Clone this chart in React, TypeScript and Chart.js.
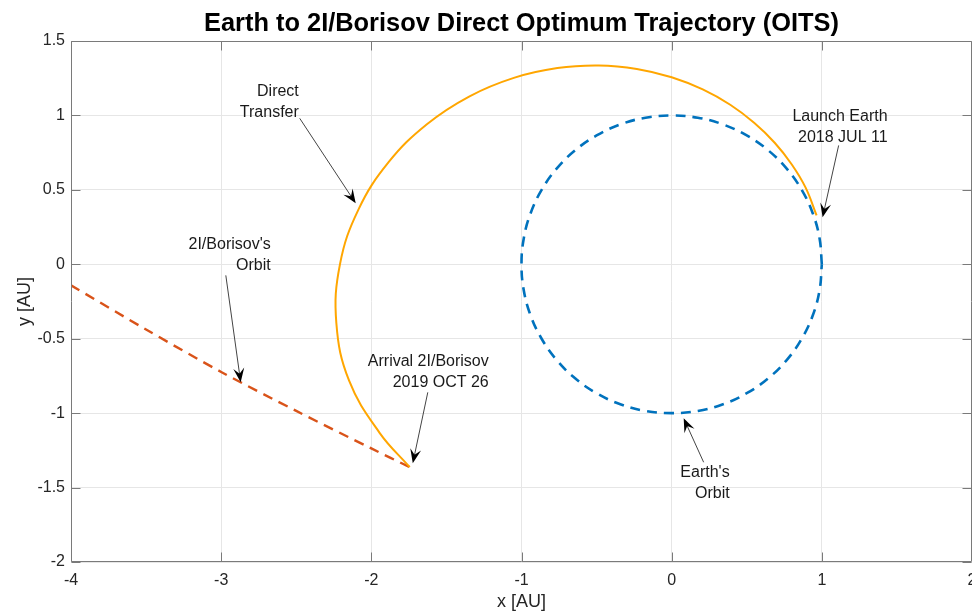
import React, { useEffect, useRef } from "react";
import { Chart, registerables } from "chart.js";

Chart.register(...registerables);

const FONT = '"Liberation Sans", Arial, Helvetica, sans-serif';

// Earth's orbit (unit circle, AU)
const earthX = [1, 0.985, 0.94, 0.866, 0.766, 0.643, 0.5, 0.342, 0.174, 0, -0.174, -0.342, -0.5, -0.643, -0.766, -0.866, -0.94, -0.985, -1, -0.985, -0.94, -0.866, -0.766, -0.643, -0.5, -0.342, -0.174, 0, 0.174, 0.342, 0.5, 0.643, 0.766, 0.866, 0.94, 0.985, 1];
const earthY = [0, 0.174, 0.342, 0.5, 0.643, 0.766, 0.866, 0.94, 0.985, 1, 0.985, 0.94, 0.866, 0.766, 0.643, 0.5, 0.342, 0.174, 0, -0.174, -0.342, -0.5, -0.643, -0.766, -0.866, -0.94, -0.985, -1, -0.985, -0.94, -0.866, -0.766, -0.643, -0.5, -0.342, -0.174, 0];

// Direct transfer trajectory (AU), launch -> arrival
const transferX = [0.965, 0.892, 0.8, 0.686, 0.549, 0.39, 0.207, 0, -0.232, -0.486, -0.761, -1.051, -1.346, -1.63, -1.885, -2.086, -2.209, -2.233, -2.148, -1.945, -1.744];
const transferY = [0.329, 0.515, 0.671, 0.817, 0.951, 1.072, 1.175, 1.257, 1.313, 1.336, 1.319, 1.253, 1.129, 0.941, 0.686, 0.368, 0, -0.394, -0.782, -1.132, -1.363];

// 2I/Borisov's orbit (AU)
const borisovX = [-4, -3.5, -3, -2.5, -2, -1.744];
const borisovY = [-0.141, -0.438, -0.723, -0.985, -1.237, -1.363];

const xTicks = [-4, -3, -2, -1, 0, 1, 2];
const yTicks = [-2, -1.5, -1, -0.5, 0, 0.5, 1, 1.5];

// Annotations (text lines, text right edge / first line centre, arrow tail, arrow tip), in AU
const noteLines = [["Direct", "Transfer"], ["Launch Earth", "2018 JUL 11"], ["2I/Borisov's", "Orbit"], ["Arrival 2I/Borisov", "2019 OCT 26"], ["Earth's", "Orbit"]];
const noteTextX = [-2.483, 1.438, -2.67, -1.218, 0.386];
const noteTextY = [1.162, 0.994, 0.134, -0.651, -1.397];
const noteTailX = [-2.477, 1.112, -2.969, -1.624, 0.213];
const noteTailY = [0.981, 0.799, -0.074, -0.86, -1.33];
const noteTipX = [-2.104, 1.005, -2.87, -1.724, 0.08];
const noteTipY = [0.41, 0.316, -0.792, -1.336, -1.034];

const toPts = (xs: number[], ys: number[]) => xs.map((x, i) => ({ x, y: ys[i] }));

const framePlugin = {
  id: "frameAndNotes",
  afterDraw(chart: any) {
    const { ctx, chartArea: a, scales } = chart;
    const xs = scales.x;
    const ys = scales.y;
    ctx.save();
    // frame
    ctx.strokeStyle = "#7a7a7a";
    ctx.lineWidth = 1;
    const L = Math.round(a.left) + 0.5;
    const R = Math.round(a.right) - 0.5;
    const T = Math.round(a.top) + 0.5;
    const B = Math.round(a.bottom) - 0.5;
    ctx.beginPath();
    ctx.moveTo(L, T);
    ctx.lineTo(R, T);
    ctx.lineTo(R, B);
    ctx.lineTo(L, B);
    ctx.closePath();
    ctx.stroke();
    // inward ticks
    const tl = 9;
    ctx.beginPath();
    xTicks.forEach((v) => {
      const px = Math.round(xs.getPixelForValue(v)) + 0.5;
      ctx.moveTo(px, B);
      ctx.lineTo(px, B - tl);
      ctx.moveTo(px, T);
      ctx.lineTo(px, T + tl);
    });
    yTicks.forEach((v) => {
      const py = Math.round(ys.getPixelForValue(v)) + 0.5;
      ctx.moveTo(L, py);
      ctx.lineTo(L + tl, py);
      ctx.moveTo(R, py);
      ctx.lineTo(R - tl, py);
    });
    ctx.stroke();

    // annotations
    ctx.font = `16px ${FONT}`;
    ctx.textAlign = "right";
    ctx.textBaseline = "middle";
    noteLines.forEach((lines, i) => {
      const tx = xs.getPixelForValue(noteTextX[i]);
      const ty = ys.getPixelForValue(noteTextY[i]);
      ctx.fillStyle = "#1a1a1a";
      lines.forEach((s, j) => ctx.fillText(s, tx, ty + j * 21));
      const x0 = xs.getPixelForValue(noteTailX[i]);
      const y0 = ys.getPixelForValue(noteTailY[i]);
      const x1 = xs.getPixelForValue(noteTipX[i]);
      const y1 = ys.getPixelForValue(noteTipY[i]);
      const ang = Math.atan2(y1 - y0, x1 - x0);
      const c = Math.cos(ang);
      const s = Math.sin(ang);
      const len = 13;
      const wid = 5.5;
      const bx = x1 - len * c;
      const by = y1 - len * s;
      ctx.strokeStyle = "#444";
      ctx.lineWidth = 1;
      ctx.beginPath();
      ctx.moveTo(x0, y0);
      ctx.lineTo(bx + 5 * c, by + 5 * s);
      ctx.stroke();
      const nx = -s;
      const ny = c;
      ctx.fillStyle = "#000";
      ctx.beginPath();
      ctx.moveTo(x1, y1);
      ctx.lineTo(bx + nx * wid - 1 * c, by + ny * wid - 1 * s);
      ctx.lineTo(bx + 4.5 * c, by + 4.5 * s);
      ctx.lineTo(bx - nx * wid - 1 * c, by - ny * wid - 1 * s);
      ctx.closePath();
      ctx.fill();
    });
    ctx.restore();
  },
};

export default function App() {
  const ref = useRef<HTMLCanvasElement | null>(null);
  useEffect(() => {
    document.body.style.margin = "0";
    const canvas = ref.current;
    if (!canvas) return;
    const chart = new Chart(canvas, {
      type: "line",
      data: {
        datasets: [
          {
            label: "Direct Transfer",
            data: toPts(transferX, transferY),
            borderColor: "#FFA600",
            borderWidth: 2,
            pointRadius: 0,
            tension: 0.4,
            fill: false,
            order: 1,
          },
          {
            label: "Earth's Orbit",
            data: toPts(earthX, earthY),
            borderColor: "#0072BD",
            borderWidth: 2.6,
            borderDash: [10, 7],
            pointRadius: 0,
            tension: 0.4,
            fill: false,
            order: 2,
          },
          {
            label: "2I/Borisov's Orbit",
            data: toPts(borisovX, borisovY),
            borderColor: "#D95319",
            borderWidth: 2.4,
            borderDash: [10, 7],
            pointRadius: 0,
            tension: 0.3,
            fill: false,
            order: 3,
          },
        ],
      },
      options: {
        animation: false,
        responsive: false,
        devicePixelRatio: 1,
        layout: { padding: 0 },
        plugins: {
          legend: { display: false },
          tooltip: { enabled: false },
          title: {
            display: true,
            text: "Earth to 2I/Borisov Direct Optimum Trajectory (OITS)",
            color: "#000",
            fullSize: false,
            font: { family: FONT, size: 25.4, weight: "bold" },
            padding: { top: 8.5, bottom: 2.1 },
          },
        },
        scales: {
          x: {
            type: "linear",
            min: -4,
            max: 2,
            afterBuildTicks: (s: any) => {
              s.ticks = xTicks.map((v) => ({ value: v }));
            },
            ticks: { font: { family: FONT, size: 16 }, color: "#262626", padding: 9, maxRotation: 0, autoSkip: false, callback: (v: any) => String(v) },
            grid: { color: "#e6e6e6", drawTicks: false, lineWidth: 1 },
            border: { display: false },
            title: { display: true, text: "x [AU]", color: "#262626", font: { family: FONT, size: 18 }, padding: { top: 0, bottom: 0 } },
            afterFit: (s: any) => {
              s.height = 51;
              s.paddingLeft = 0;
              s.paddingRight = 0;
            },
          },
          y: {
            type: "linear",
            min: -2,
            max: 1.5,
            afterBuildTicks: (s: any) => {
              s.ticks = yTicks.map((v) => ({ value: v }));
            },
            ticks: { font: { family: FONT, size: 16 }, color: "#262626", padding: 6, autoSkip: false, callback: (v: any) => String(v) },
            grid: { color: "#e6e6e6", drawTicks: false, lineWidth: 1 },
            border: { display: false },
            title: { display: true, text: "y [AU]", color: "#262626", font: { family: FONT, size: 18 }, padding: { top: 14, bottom: 0 } },
            afterFit: (s: any) => {
              s.width = 71;
            },
          },
        },
      } as any,
      plugins: [framePlugin],
    });
    return () => chart.destroy();
  }, []);
  return (
    <div style={{ width: 972, height: 613, overflow: "hidden" }}>
      <canvas ref={ref} width={972} height={613} style={{ display: "block" }} />
    </div>
  );
}
